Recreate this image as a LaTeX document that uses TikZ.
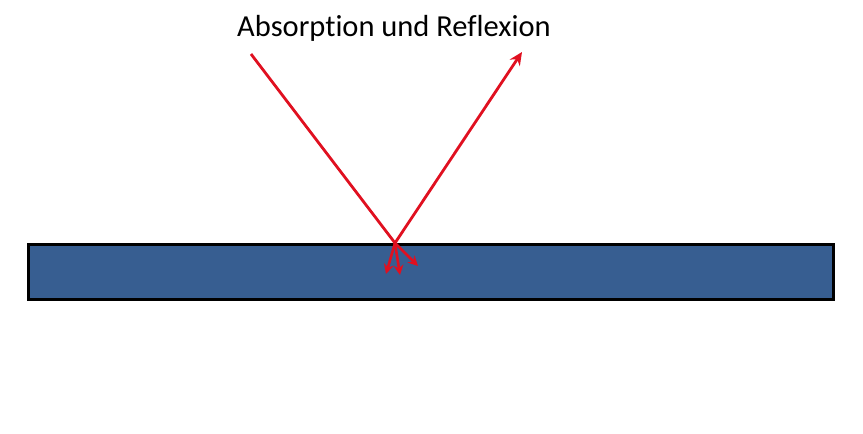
\documentclass[tikz,border=0pt]{standalone}
\usepackage{fontspec}
\setmainfont{Carlito}[Ligatures=NoCommon]
\usetikzlibrary{arrows.meta}
\definecolor{ray}{HTML}{E01020}
\definecolor{slab}{HTML}{375E91}
\begin{document}
\begin{tikzpicture}[x=1pt,y=-1pt,
  rayline/.style={draw=ray,line width=2.8pt},
  rayarrow/.style={rayline,-{Stealth[length=13pt,width=12pt]}},
  smallarrow/.style={draw=ray,line width=2.6pt,-{Stealth[length=10pt,width=10pt]}}]
\useasboundingbox (0,0) rectangle (863,434);
\node[draw=black,line width=3pt,fill=slab,minimum width=805pt,minimum height=55pt,anchor=north west,inner sep=0pt] (slab) at (27,243) {};
\node[font=\fontsize{30.5}{36}\selectfont] (title) at (394,28) {Absorption und Reflexion};
\coordinate (src) at (251,54);
\coordinate (hit) at (395,243);
\coordinate (out) at (522,52);
\coordinate (a1) at (386,274);
\coordinate (a2) at (400,275);
\coordinate (a3) at (418,266);
\draw[rayline] (src) -- (hit);
\draw[rayarrow] (hit) -- (out);
\draw[smallarrow] (hit) -- (a1);
\draw[smallarrow] (hit) -- (a2);
\draw[smallarrow] (hit) -- (a3);
\end{tikzpicture}
\end{document}
